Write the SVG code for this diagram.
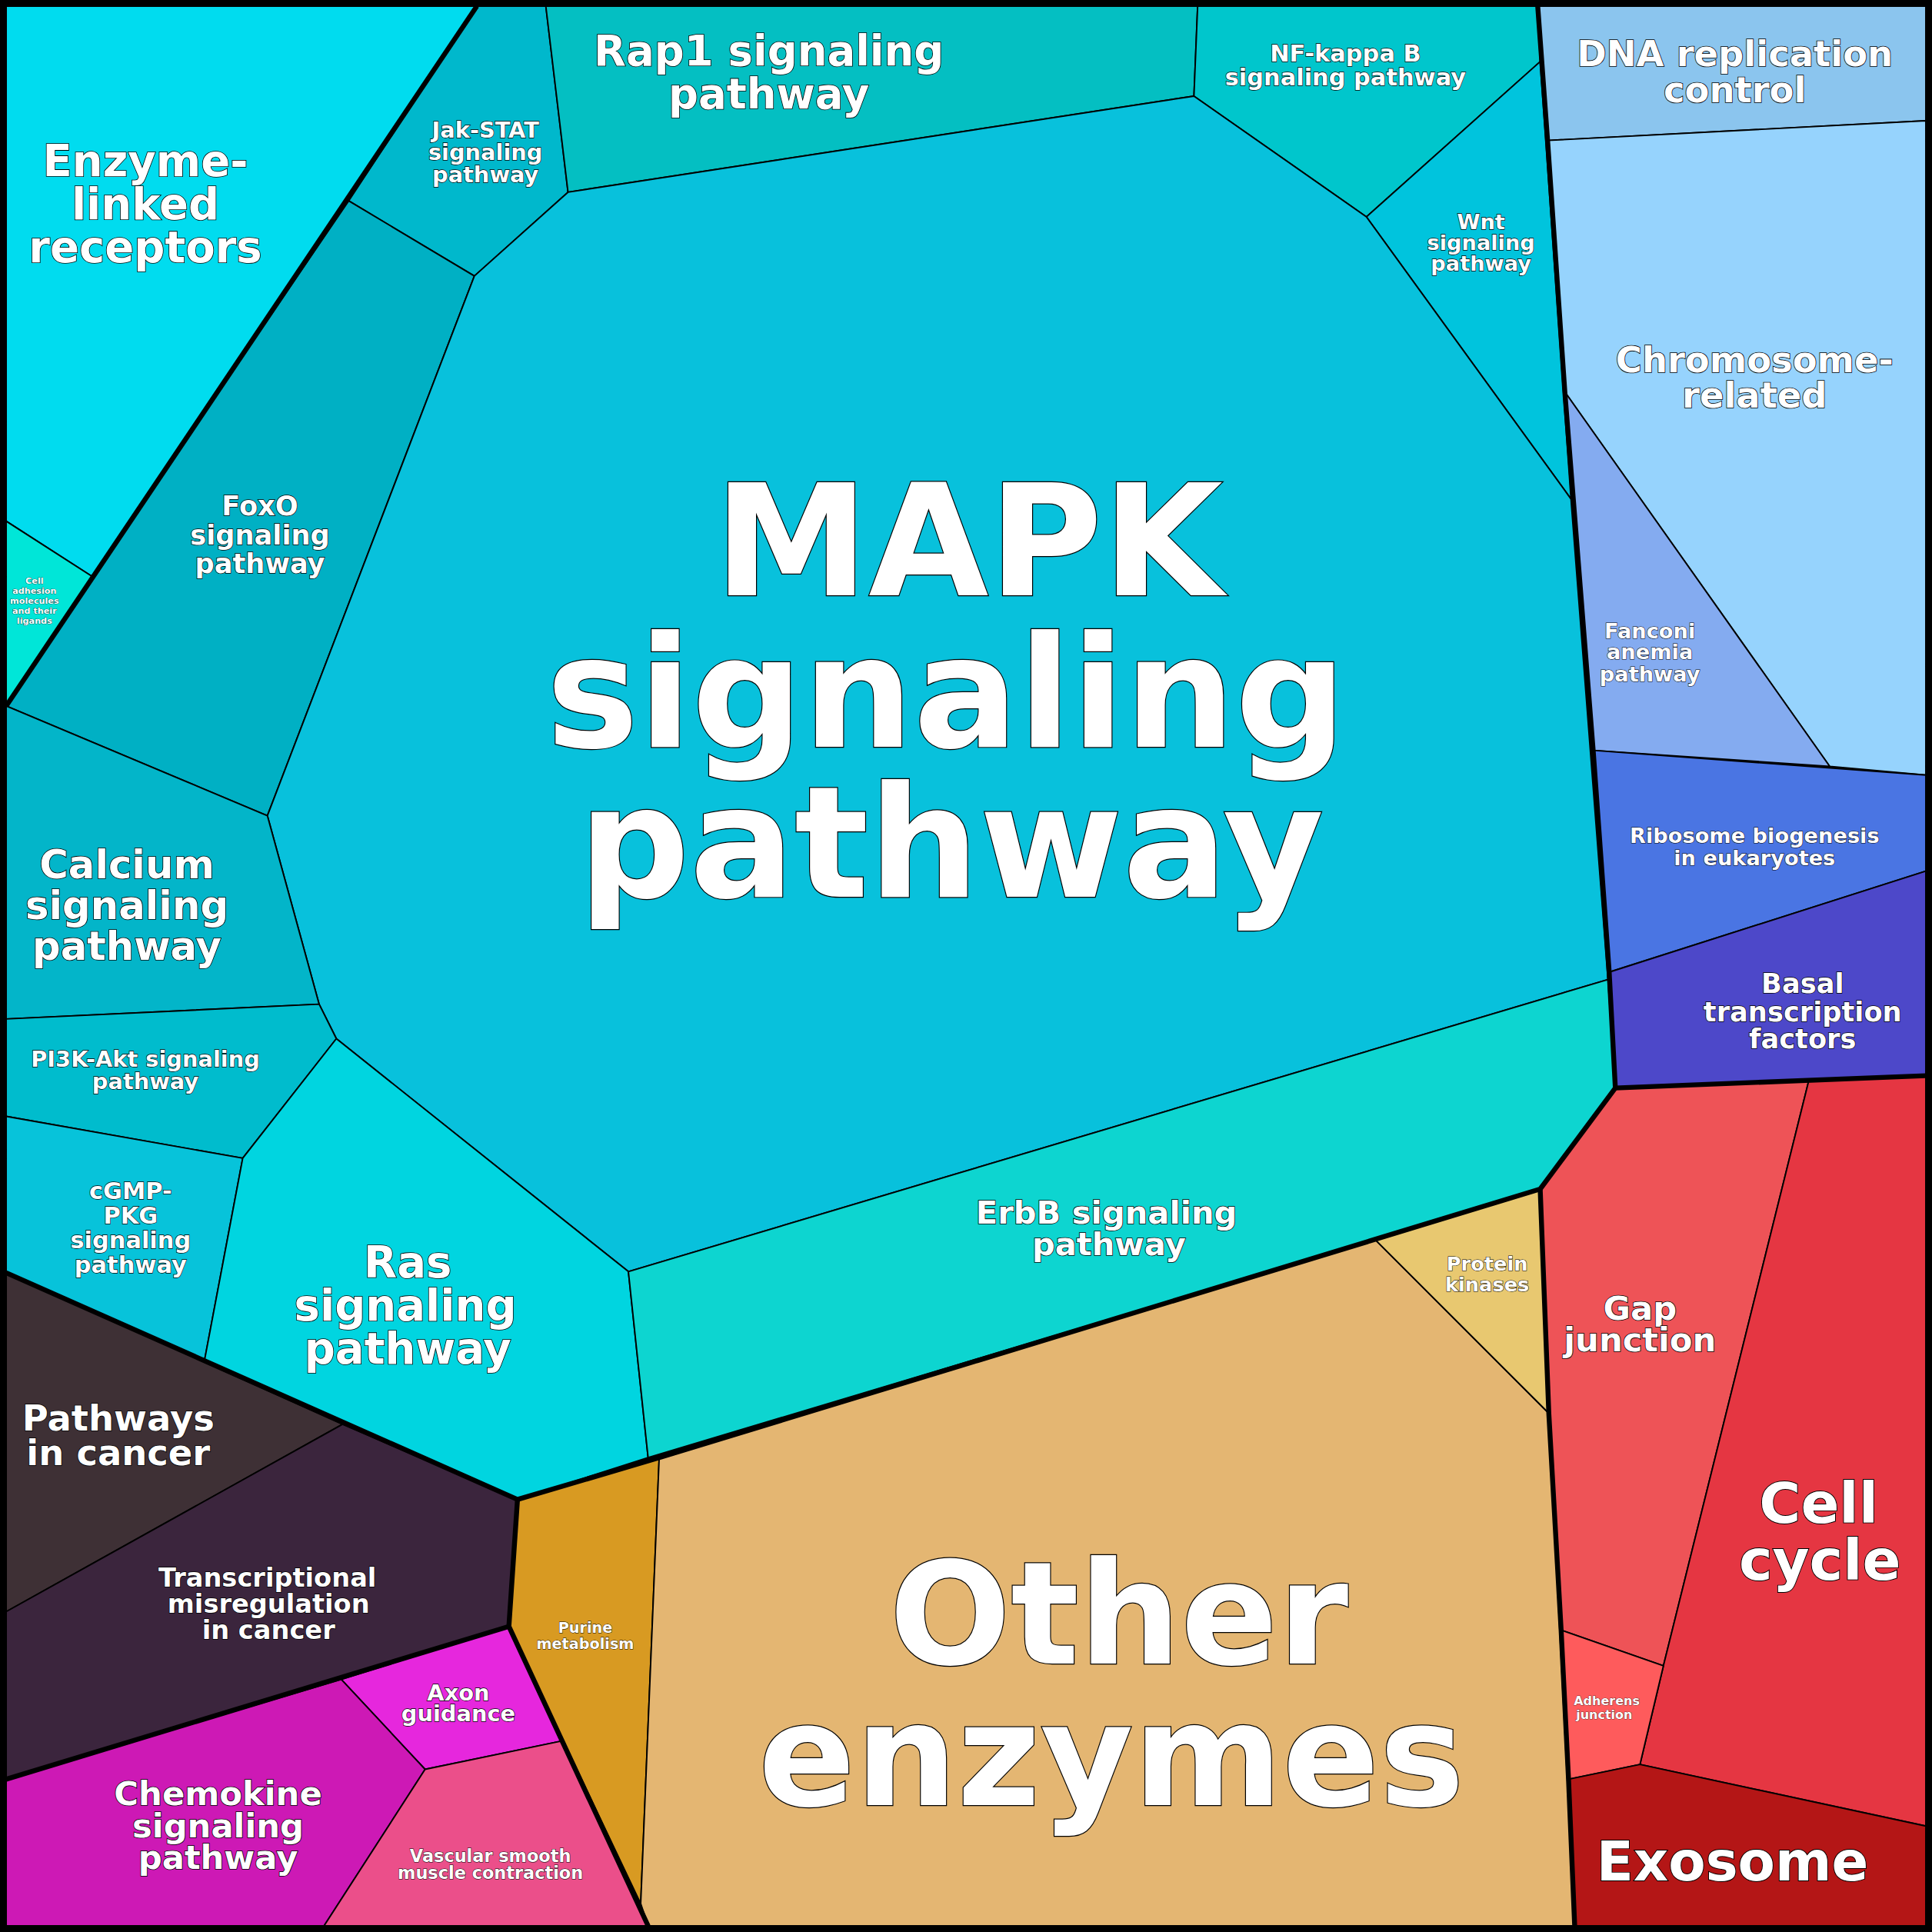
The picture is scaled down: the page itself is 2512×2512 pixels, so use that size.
<svg xmlns="http://www.w3.org/2000/svg" width="2512" height="2512" viewBox="0 0 2512 2512">
<style>
polygon{stroke:#000;stroke-width:1.2;stroke-linejoin:round}
text{font-family:"DejaVu Sans",sans-serif;font-weight:bold;fill:#fff;stroke:#000;paint-order:stroke;text-anchor:middle}
.thick{fill:none;stroke:#000;stroke-width:4;stroke-linejoin:round}
</style>
<g transform="scale(1.60204)">
<rect x="0" y="0" width="1568" height="1568" fill="#000"/>
<g id="nodes">
<g id="enzyme"><polygon points="5,5 387,5 283,163 75,468 5,423" fill="#00dcef"/><text font-size="35" stroke-width="1"><tspan x="118" y="143">Enzyme-</tspan><tspan x="118" y="178">linked</tspan><tspan x="118" y="213">receptors</tspan></text></g>
<g id="celladh"><polygon points="5,423 75,468 5,573" fill="#00e6d8"/><text font-size="7" stroke-width="0.4"><tspan x="28" y="474">Cell</tspan><tspan x="28" y="482">adhesion</tspan><tspan x="28" y="490">molecules</tspan><tspan x="28" y="498">and their</tspan><tspan x="28" y="506">ligands</tspan></text></g>
<g id="jak"><polygon points="387,5 443,5 461,156 385,224 283,163" fill="#00b8cc"/><text font-size="18" stroke-width="0.8"><tspan x="394" y="112">Jak-STAT</tspan><tspan x="394" y="130">signaling</tspan><tspan x="394" y="148">pathway</tspan></text></g>
<g id="rap1"><polygon points="443,5 972,5 969,78 461,156" fill="#04bfc2"/><text font-size="34" stroke-width="1"><tspan x="624" y="53">Rap1 signaling</tspan><tspan x="624" y="88">pathway</tspan></text></g>
<g id="nfkb"><polygon points="972,5 1248,5 1250,50 1109,176 969,78" fill="#00c6cc"/><text font-size="19" stroke-width="0.8"><tspan x="1092" y="50">NF-kappa B</tspan><tspan x="1092" y="69">signaling pathway</tspan></text></g>
<g id="wnt"><polygon points="1250,50 1275,405 1109,176" fill="#00c4dd"/><text font-size="17" stroke-width="0.8"><tspan x="1202" y="186">Wnt</tspan><tspan x="1202" y="203">signaling</tspan><tspan x="1202" y="220">pathway</tspan></text></g>
<g id="foxo"><polygon points="283,163 385,224 217,662 5,573 75,468" fill="#00b0c4"/><text font-size="22" stroke-width="0.9"><tspan x="211" y="418">FoxO</tspan><tspan x="211" y="442">signaling</tspan><tspan x="211" y="465">pathway</tspan></text></g>
<g id="mapk"><polygon points="461,156 969,78 1109,176 1275,405 1305,795 510,1032 273,843 259,815 217,662 385,224" fill="#08c1dc"/><text font-size="126" stroke-width="1.5"><tspan x="786" y="483">MAPK</tspan><tspan x="768" y="606">signaling</tspan><tspan x="772" y="728">pathway</tspan></text></g>
<g id="calcium"><polygon points="5,573 217,662 259,815 5,827" fill="#03b5c9"/><text font-size="32" stroke-width="1"><tspan x="103" y="713">Calcium</tspan><tspan x="103" y="746">signaling</tspan><tspan x="103" y="779">pathway</tspan></text></g>
<g id="pi3k"><polygon points="5,827 259,815 273,843 197,940 5,906" fill="#00bccd"/><text font-size="18" stroke-width="0.8"><tspan x="118" y="866">PI3K-Akt signaling</tspan><tspan x="118" y="884">pathway</tspan></text></g>
<g id="cgmp"><polygon points="5,906 197,940 166,1104 5,1033" fill="#07c3da"/><text font-size="19" stroke-width="0.8"><tspan x="106" y="973">cGMP-</tspan><tspan x="106" y="993">PKG</tspan><tspan x="106" y="1013">signaling</tspan><tspan x="106" y="1033">pathway</tspan></text></g>
<g id="ras"><polygon points="273,843 510,1032 526,1183 420,1217 166,1104 197,940" fill="#00d5e0"/><text font-size="35" stroke-width="1"><tspan x="331" y="1037">Ras</tspan><tspan x="329" y="1072">signaling</tspan><tspan x="331" y="1107">pathway</tspan></text></g>
<g id="erbb"><polygon points="510,1032 1305,795 1311,883 1250,965 1116,1006 526,1183" fill="#0dd5d0"/><text font-size="26" stroke-width="1"><tspan x="898" y="993">ErbB signaling</tspan><tspan x="900" y="1019">pathway</tspan></text></g>
<g id="pathcancer"><polygon points="5,1033 278,1156 5,1308" fill="#3e3035"/><text font-size="29" stroke-width="1"><tspan x="96" y="1161">Pathways</tspan><tspan x="96" y="1189">in cancer</tspan></text></g>
<g id="transcr"><polygon points="278,1156 420,1217 413,1320 5,1444 5,1308" fill="#3b253d"/><text font-size="21" stroke-width="0.9"><tspan x="217" y="1288">Transcriptional</tspan><tspan x="218" y="1309">misregulation</tspan><tspan x="218" y="1330">in cancer</tspan></text></g>
<g id="axon"><polygon points="277,1363 413,1320 456,1413 345,1436" fill="#e627dd"/><text font-size="18" stroke-width="0.8"><tspan x="372" y="1380">Axon</tspan><tspan x="372" y="1397">guidance</tspan></text></g>
<g id="chemokine"><polygon points="5,1444 277,1363 345,1436 263,1563 5,1563" fill="#cd19b5"/><text font-size="27" stroke-width="1"><tspan x="177" y="1465">Chemokine</tspan><tspan x="177" y="1491">signaling</tspan><tspan x="177" y="1517">pathway</tspan></text></g>
<g id="vascular"><polygon points="345,1436 456,1413 526,1563 263,1563" fill="#eb4f8a"/><text font-size="14" stroke-width="0.6"><tspan x="398" y="1511">Vascular smooth</tspan><tspan x="398" y="1525">muscle contraction</tspan></text></g>
<g id="purine"><polygon points="420,1217 535,1183 520,1545 413,1320" fill="#d89a22"/><text font-size="12" stroke-width="0.5"><tspan x="475" y="1325">Purine</tspan><tspan x="475" y="1338">metabolism</tspan></text></g>
<g id="other"><polygon points="535,1183 1116,1006 1257,1147 1278,1563 526,1563 520,1545" fill="#e4b672"/><text font-size="116" stroke-width="1.5"><tspan x="908" y="1350">Other</tspan><tspan x="902" y="1465">enzymes</tspan></text></g>
<g id="protkin"><polygon points="1116,1006 1250,965 1257,1147" fill="#e8c870"/><text font-size="16" stroke-width="0.7"><tspan x="1207" y="1031">Protein</tspan><tspan x="1207" y="1048">kinases</tspan></text></g>
<g id="dnarep"><polygon points="1248,5 1563,5 1563,98 1256,114" fill="#8bc5ee"/><text font-size="29" stroke-width="1"><tspan x="1408" y="54">DNA replication</tspan><tspan x="1408" y="83">control</tspan></text></g>
<g id="chromo"><polygon points="1256,114 1563,98 1563,629 1485,622 1270,318" fill="#96d3fd"/><text font-size="29" stroke-width="1"><tspan x="1424" y="302">Chromosome-</tspan><tspan x="1424" y="331">related</tspan></text></g>
<g id="fanconi"><polygon points="1270,318 1485,622 1293,609" fill="#84abf0"/><text font-size="17" stroke-width="0.7"><tspan x="1339" y="518">Fanconi</tspan><tspan x="1339" y="535">anemia</tspan><tspan x="1339" y="553">pathway</tspan></text></g>
<g id="ribo"><polygon points="1293,609 1563,629 1563,707 1306,789" fill="#4a75e3"/><text font-size="17" stroke-width="0.7"><tspan x="1424" y="684">Ribosome biogenesis</tspan><tspan x="1424" y="702">in eukaryotes</tspan></text></g>
<g id="basal"><polygon points="1306,789 1563,707 1563,873 1311,883" fill="#4d48c9"/><text font-size="22" stroke-width="0.9"><tspan x="1463" y="806">Basal</tspan><tspan x="1463" y="829">transcription</tspan><tspan x="1463" y="851">factors</tspan></text></g>
<g id="gap"><polygon points="1311,883 1468,877 1350,1352 1267,1323 1257,1147 1250,965" fill="#ee5357"/><text font-size="27" stroke-width="1"><tspan x="1331" y="1071">Gap</tspan><tspan x="1331" y="1097">junction</tspan></text></g>
<g id="cellcycle"><polygon points="1468,877 1563,873 1563,1482 1331,1432 1350,1352" fill="#e53642"/><text font-size="46" stroke-width="1.2"><tspan x="1476" y="1236">Cell</tspan><tspan x="1477" y="1282">cycle</tspan></text></g>
<g id="adherens"><polygon points="1267,1323 1350,1352 1331,1432 1273,1444" fill="#fe5b5c"/><text font-size="10" stroke-width="0.4"><tspan x="1304" y="1384">Adherens</tspan><tspan x="1302" y="1395">junction</tspan></text></g>
<g id="exosome"><polygon points="1273,1444 1331,1432 1563,1482 1563,1563 1278,1563" fill="#b41616"/><text font-size="44" stroke-width="1.2"><tspan x="1406" y="1526">Exosome</tspan></text></g>
</g>
<g id="connectors">
<polyline class="thick" points="5,573 387,5"/>
<polyline class="thick" points="5,1033 420,1217 535,1183 1250,965 1311,883 1306,789 1293,609 1270,318 1256,114 1248,5"/>
<polyline class="thick" points="1311,883 1563,873"/>
<polyline class="thick" points="1250,965 1257,1147 1267,1323 1273,1444 1278,1563"/>
<polyline class="thick" points="420,1217 413,1320 526,1563"/>
<polyline class="thick" points="5,1444 413,1320"/>
<rect class="thick" x="3" y="3" width="1562" height="1562" stroke-width="6"/>
</g>
</g>
</svg>
